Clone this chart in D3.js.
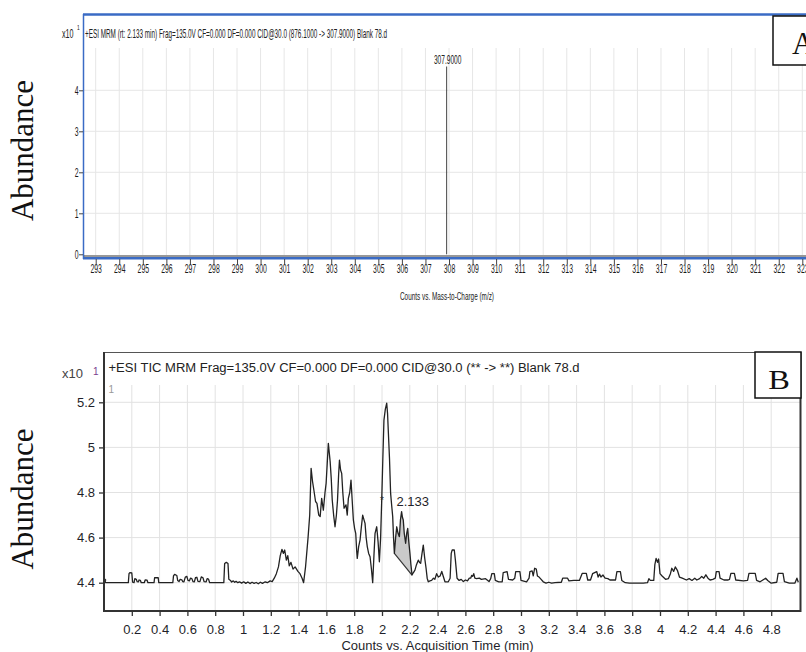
<!DOCTYPE html>
<html>
<head>
<meta charset="utf-8">
<script src="https://cdn.jsdelivr.net/npm/d3@7"></script>
<style>
  body { margin: 0; background: #fff; }
  svg { display: block; }
</style>
</head>
<body>
<div id="chart"></div>
<script>
// ---- panel A : MRM spectrum ----
const aTicksX = [293, 294, 295, 296, 297, 298, 299, 300, 301, 302, 303, 304, 305, 306, 307, 308,
                 309, 310, 311, 312, 313, 314, 315, 316, 317, 318, 319, 320, 321, 322, 323];
const aTicksY = [0, 1, 2, 3, 4];
const aPeakMz = [307.9];
const aPeakAbund = [4.58];
const aPeakLabels = ['307.9000'];
const aTitle = '+ESI MRM (rt: 2.133 min) Frag=135.0V CF=0.000 DF=0.000 CID@30.0 (876.1000 -> 307.9000) Blank 78.d';

// ---- panel B : TIC chromatogram ----
const bTicksX = [0.2, 0.4, 0.6, 0.8, 1, 1.2, 1.4, 1.6, 1.8, 2, 2.2, 2.4, 2.6, 2.8, 3, 3.2, 3.4, 3.6, 3.8, 4, 4.2, 4.4, 4.6, 4.8];
const bTicksY = [4.4, 4.6, 4.8, 5, 5.2];
const bTitle = '+ESI TIC MRM Frag=135.0V CF=0.000 DF=0.000 CID@30.0 (** -> **) Blank 78.d';
const bPeakRt = ['2.133'];
const bIntegStart = 2.089;
const bIntegEnd = 2.216;

const bTimes = [
  0.005, 0.012, 0.175, 0.180, 0.186, 0.200, 0.206, 0.216, 0.222, 0.232, 0.238, 0.248, 0.252, 0.262, 0.268, 0.290,
  0.296, 0.310, 0.316, 0.360, 0.364, 0.390, 0.394, 0.495, 0.500, 0.508, 0.524, 0.530, 0.540, 0.548, 0.560, 0.566,
  0.575, 0.585, 0.596, 0.604, 0.614, 0.622, 0.632, 0.640, 0.650, 0.658, 0.668, 0.676, 0.690, 0.700, 0.712, 0.720,
  0.735, 0.742, 0.752, 0.760, 0.795, 0.862, 0.868, 0.880, 0.892, 0.898, 0.910, 0.918, 0.930, 0.940, 0.950, 0.962,
  0.975, 0.990, 1.005, 1.020, 1.035, 1.050, 1.065, 1.080, 1.095, 1.110, 1.125, 1.140, 1.160, 1.175, 1.195, 1.210,
  1.225, 1.240, 1.255, 1.268, 1.280, 1.290, 1.300, 1.312, 1.322, 1.333, 1.345, 1.360, 1.375, 1.395, 1.410, 1.425,
  1.436, 1.450, 1.468, 1.480, 1.490, 1.500, 1.510, 1.522, 1.532, 1.545, 1.555, 1.566, 1.578, 1.590, 1.598, 1.606,
  1.614, 1.620, 1.627, 1.635, 1.642, 1.652, 1.662, 1.672, 1.680, 1.688, 1.694, 1.702, 1.710, 1.718, 1.727, 1.741,
  1.750, 1.758, 1.768, 1.777, 1.786, 1.794, 1.803, 1.811, 1.818, 1.822, 1.832, 1.842, 1.852, 1.861, 1.870, 1.878,
  1.886, 1.894, 1.904, 1.914, 1.924, 1.933, 1.942, 1.950, 1.962, 1.972, 1.981, 1.990, 1.998, 2.006, 2.014, 2.024,
  2.034, 2.040, 2.045, 2.054, 2.062, 2.070, 2.077, 2.083, 2.089, 2.098, 2.106, 2.115, 2.125, 2.133, 2.141, 2.147,
  2.153, 2.160, 2.170, 2.178, 2.185, 2.193, 2.201, 2.208, 2.216, 2.226, 2.237, 2.248, 2.261, 2.270, 2.278, 2.288,
  2.297, 2.307, 2.317, 2.325, 2.333, 2.345, 2.357, 2.370, 2.380, 2.393, 2.405, 2.418, 2.430, 2.440, 2.453, 2.477,
  2.490, 2.498, 2.505, 2.520, 2.528, 2.540, 2.555, 2.570, 2.585, 2.600, 2.615, 2.628, 2.638, 2.645, 2.652, 2.660,
  2.668, 2.680, 2.700, 2.715, 2.745, 2.770, 2.782, 2.790, 2.808, 2.815, 2.840, 2.865, 2.872, 2.900, 2.910, 2.940,
  2.955, 2.962, 2.992, 3.000, 3.040, 3.058, 3.064, 3.080, 3.088, 3.098, 3.110, 3.118, 3.130, 3.140, 3.160, 3.180,
  3.200, 3.220, 3.245, 3.290, 3.300, 3.335, 3.345, 3.380, 3.420, 3.440, 3.470, 3.480, 3.500, 3.515, 3.545, 3.555,
  3.565, 3.575, 3.590, 3.605, 3.625, 3.640, 3.680, 3.690, 3.715, 3.725, 3.750, 3.780, 3.880, 3.910, 3.920, 3.930,
  3.955, 3.963, 3.972, 3.982, 3.990, 4.000, 4.015, 4.040, 4.060, 4.075, 4.085, 4.098, 4.110, 4.125, 4.140, 4.160,
  4.190, 4.210, 4.230, 4.250, 4.265, 4.285, 4.300, 4.315, 4.330, 4.345, 4.360, 4.380, 4.398, 4.405, 4.425, 4.432,
  4.460, 4.490, 4.500, 4.510, 4.535, 4.545, 4.600, 4.630, 4.640, 4.685, 4.695, 4.720, 4.740, 4.760, 4.775, 4.800,
  4.840, 4.850, 4.885, 4.895, 4.930, 4.970, 4.985, 4.995
];
const bValues = [
  4.412, 4.400, 4.400, 4.440, 4.445, 4.443, 4.402, 4.400, 4.418, 4.415, 4.405, 4.404, 4.412, 4.410, 4.400, 4.400,
  4.412, 4.411, 4.400, 4.400, 4.422, 4.422, 4.400, 4.400, 4.430, 4.437, 4.432, 4.410, 4.405, 4.415, 4.413, 4.405,
  4.404, 4.425, 4.428, 4.410, 4.408, 4.420, 4.418, 4.405, 4.404, 4.422, 4.424, 4.406, 4.405, 4.426, 4.422, 4.405,
  4.404, 4.418, 4.416, 4.400, 4.400, 4.400, 4.485, 4.490, 4.485, 4.415, 4.410, 4.403, 4.408, 4.402, 4.406, 4.400,
  4.404, 4.398, 4.404, 4.397, 4.403, 4.396, 4.402, 4.397, 4.401, 4.395, 4.402, 4.397, 4.404, 4.400, 4.408, 4.405,
  4.420, 4.440, 4.470, 4.520, 4.548, 4.530, 4.545, 4.500, 4.520, 4.475, 4.490, 4.460, 4.470, 4.450, 4.440, 4.420,
  4.400, 4.470, 4.600, 4.700, 4.907, 4.850, 4.810, 4.760, 4.752, 4.700, 4.693, 4.774, 4.722, 4.800, 4.841, 4.930,
  5.018, 4.980, 4.937, 4.860, 4.767, 4.700, 4.648, 4.700, 4.767, 4.880, 4.944, 4.900, 4.885, 4.800, 4.730, 4.745,
  4.700, 4.774, 4.800, 4.855, 4.760, 4.678, 4.640, 4.619, 4.540, 4.508, 4.560, 4.589, 4.650, 4.700, 4.680, 4.663,
  4.600, 4.560, 4.530, 4.515, 4.460, 4.400, 4.520, 4.619, 4.648, 4.580, 4.493, 4.600, 4.767, 4.950, 5.121, 5.170,
  5.196, 5.150, 5.077, 4.950, 4.796, 4.740, 4.693, 4.600, 4.530, 4.600, 4.648, 4.620, 4.604, 4.680, 4.715, 4.690,
  4.678, 4.620, 4.575, 4.620, 4.641, 4.580, 4.530, 4.480, 4.434, 4.445, 4.456, 4.480, 4.500, 4.490, 4.486, 4.530,
  4.567, 4.510, 4.464, 4.420, 4.404, 4.408, 4.410, 4.420, 4.415, 4.440, 4.425, 4.430, 4.450, 4.430, 4.404, 4.404,
  4.420, 4.530, 4.545, 4.545, 4.500, 4.420, 4.410, 4.415, 4.405, 4.412, 4.408, 4.420, 4.420, 4.432, 4.428, 4.440,
  4.420, 4.418, 4.420, 4.415, 4.418, 4.405, 4.418, 4.440, 4.440, 4.410, 4.404, 4.404, 4.445, 4.449, 4.415, 4.412,
  4.420, 4.449, 4.449, 4.410, 4.404, 4.420, 4.449, 4.452, 4.430, 4.464, 4.460, 4.430, 4.425, 4.418, 4.404, 4.398,
  4.402, 4.398, 4.400, 4.402, 4.420, 4.420, 4.408, 4.410, 4.410, 4.441, 4.441, 4.412, 4.412, 4.440, 4.449, 4.425,
  4.438, 4.425, 4.434, 4.420, 4.418, 4.412, 4.412, 4.449, 4.449, 4.410, 4.400, 4.398, 4.398, 4.400, 4.418, 4.410,
  4.410, 4.480, 4.508, 4.490, 4.505, 4.440, 4.430, 4.415, 4.418, 4.440, 4.464, 4.450, 4.470, 4.455, 4.425, 4.420,
  4.412, 4.418, 4.410, 4.420, 4.412, 4.418, 4.428, 4.420, 4.435, 4.420, 4.412, 4.415, 4.420, 4.449, 4.449, 4.420,
  4.412, 4.412, 4.415, 4.441, 4.441, 4.412, 4.408, 4.410, 4.441, 4.441, 4.410, 4.404, 4.412, 4.420, 4.410, 4.398,
  4.402, 4.441, 4.441, 4.405, 4.398, 4.398, 4.420, 4.402
];

const W = 806, H = 652;
const sans = 'Liberation Sans, Arial, sans-serif';
const serif = 'Liberation Serif, Times New Roman, serif';
const blue = '#3a6bc5';

const svg = d3.select('#chart').append('svg')
    .attr('width', W)
    .attr('height', H);

// ================= panel A =================
const xA = d3.scaleLinear().domain([293, 308]).range([95.7, 449]);
const yA = d3.scaleLinear().domain([0, 4]).range([254.3, 90.3]);
const gA = svg.append('g');

// grid
gA.selectAll('.vgrid').data(aTicksX).join('line')
    .attr('x1', d => xA(d)).attr('x2', d => xA(d))
    .attr('y1', 48).attr('y2', 255)
    .attr('stroke', '#e6e6e6');
gA.selectAll('.hgrid').data(aTicksY.slice(1)).join('line')
    .attr('x1', 84).attr('x2', W)
    .attr('y1', d => yA(d)).attr('y2', d => yA(d))
    .attr('stroke', '#e6e6e6');

// frame
gA.append('line').attr('x1', 83).attr('x2', W).attr('y1', 14.5).attr('y2', 14.5)
    .attr('stroke', blue).attr('stroke-width', 2.5);
gA.append('line').attr('x1', 83.5).attr('x2', 83.5).attr('y1', 14).attr('y2', 259)
    .attr('stroke', blue).attr('stroke-width', 1.5);
gA.append('line').attr('x1', 84).attr('x2', W).attr('y1', 256).attr('y2', 256)
    .attr('stroke', '#333').attr('stroke-width', 1.2);
gA.append('line').attr('x1', 83).attr('x2', W).attr('y1', 258.3).attr('y2', 258.3)
    .attr('stroke', blue).attr('stroke-width', 2.6);

// axes
const axA = gA.append('g').attr('transform', 'translate(0,259)')
    .call(d3.axisBottom(xA).tickValues(aTicksX).tickSize(5).tickPadding(0).tickFormat(d3.format('d')));
const ayA = gA.append('g').attr('transform', 'translate(83,0)')
    .call(d3.axisLeft(yA).tickValues(aTicksY).tickSize(4).tickPadding(4).tickFormat(d3.format('d')));
[axA, ayA].forEach(ax => {
  ax.select('.domain').remove();
  ax.selectAll('line').attr('stroke', '#444');
  ax.selectAll('text')
      .attr('font-family', sans).attr('font-size', 12.5).attr('fill', '#1a1a1a')
      .attr('transform', 'scale(0.55,1)');
});

// peak stick
gA.selectAll('.peak').data(aPeakMz).join('line')
    .attr('x1', d => xA(d)).attr('x2', d => xA(d))
    .attr('y1', yA(0)).attr('y2', (d, i) => yA(aPeakAbund[i]))
    .attr('stroke', '#444').attr('stroke-width', 1);
gA.selectAll('.peaklab').data(aPeakMz).join('text')
    .attr('transform', (d, i) => `translate(${xA(d) + 1},${yA(aPeakAbund[i]) - 3}) scale(0.55,1)`)
    .attr('text-anchor', 'middle')
    .attr('font-family', sans).attr('font-size', 12).attr('fill', '#222')
    .text((d, i) => aPeakLabels[i]);

// header
gA.append('text').attr('x', 85).attr('y', 38)
    .attr('font-family', sans).attr('font-size', 13.5).attr('fill', '#222')
    .attr('textLength', 302).attr('lengthAdjust', 'spacingAndGlyphs')
    .text(aTitle);
gA.append('text').attr('transform', 'translate(62,38) scale(0.53,1)')
    .attr('font-family', sans).attr('font-size', 13.5).attr('fill', '#222')
    .text('x10');
gA.append('text').attr('transform', 'translate(77,30) scale(0.7,1)')
    .attr('font-family', sans).attr('font-size', 7).attr('fill', '#222')
    .text('1');

gA.append('text')
    .attr('x', 447).attr('y', 300).attr('text-anchor', 'middle')
    .attr('font-family', sans).attr('font-size', 11).attr('fill', '#1a1a1a')
    .attr('textLength', 94).attr('lengthAdjust', 'spacingAndGlyphs')
    .text('Counts vs. Mass-to-Charge (m/z)');

gA.append('rect').attr('x', 773).attr('y', 16).attr('width', 45).attr('height', 49)
    .attr('fill', '#fff').attr('stroke', '#111').attr('stroke-width', 1.5);
gA.append('text').attr('x', 792).attr('y', 54)
    .attr('font-family', serif).attr('font-size', 31).attr('fill', '#111')
    .text('A');

gA.append('text')
    .attr('transform', 'translate(33,150.5) rotate(-90)')
    .attr('text-anchor', 'middle')
    .attr('font-family', serif).attr('font-size', 31).attr('fill', '#111')
    .text('Abundance');

// ================= panel B =================
const xB = d3.scaleLinear().domain([0, 5]).range([104, 799]);
const yB = d3.scaleLinear().domain([4.4, 5.2]).range([582.7, 402.3]);
const gB = svg.append('g');
const bData = bTimes.map((t, i) => [t, bValues[i]]);

gB.selectAll('.vgrid').data(bTicksX).join('line')
    .attr('x1', d => xB(d)).attr('x2', d => xB(d))
    .attr('y1', 385).attr('y2', 611)
    .attr('stroke', '#e2e2e2');
gB.selectAll('.hgrid').data(bTicksY).join('line')
    .attr('x1', 104).attr('x2', 801)
    .attr('y1', d => yB(d)).attr('y2', d => yB(d))
    .attr('stroke', '#e2e2e2');

// integrated area
const integ = bData.filter(d => d[0] >= bIntegStart && d[0] <= bIntegEnd);
const line = d3.line().x(d => xB(d[0])).y(d => yB(d[1]));
gB.append('path')
    .attr('d', line(integ) + 'Z')
    .attr('fill', '#cacaca').attr('stroke', 'none');
gB.append('line')
    .attr('x1', xB(integ[0][0])).attr('y1', yB(integ[0][1]))
    .attr('x2', xB(integ[integ.length - 1][0])).attr('y2', yB(integ[integ.length - 1][1]))
    .attr('stroke', '#333').attr('stroke-width', 1.2);

gB.append('path')
    .datum(bData)
    .attr('d', line)
    .attr('fill', 'none')
    .attr('stroke', '#222')
    .attr('stroke-width', 1.3)
    .attr('stroke-linejoin', 'round');
gB.append('circle').attr('cx', xB(bTimes[0])).attr('cy', yB(bValues[0])).attr('r', 1.6).attr('fill', '#333');

// frame
gB.append('line').attr('x1', 104).attr('x2', 801).attr('y1', 352.5).attr('y2', 352.5)
    .attr('stroke', '#555').attr('stroke-width', 1);
gB.append('line').attr('x1', 800.5).attr('x2', 800.5).attr('y1', 352).attr('y2', 612)
    .attr('stroke', '#333').attr('stroke-width', 2);
gB.append('line').attr('x1', 104).attr('x2', 104).attr('y1', 352).attr('y2', 612)
    .attr('stroke', '#333').attr('stroke-width', 2);
gB.append('line').attr('x1', 103).attr('x2', 801).attr('y1', 611).attr('y2', 611)
    .attr('stroke', '#333').attr('stroke-width', 2);

const axB = gB.append('g').attr('transform', 'translate(0,611)')
    .call(d3.axisBottom(xB).tickValues(bTicksX).tickSize(5).tickPadding(9).tickFormat(d => String(d)));
const ayB = gB.append('g').attr('transform', 'translate(104,0)')
    .call(d3.axisLeft(yB).tickValues(bTicksY).tickSize(5).tickPadding(4).tickFormat(d => String(d)));
[axB, ayB].forEach(ax => {
  ax.select('.domain').remove();
  ax.selectAll('line').attr('stroke', '#333').attr('stroke-width', 1.3);
  ax.selectAll('text')
      .attr('font-family', sans).attr('font-size', 13).attr('fill', '#1f1f2a');
});

// peak label
gB.selectAll('.rt').data(bPeakRt).join('text')
    .attr('x', d => xB(+d) - 4).attr('y', 506)
    .attr('font-family', sans).attr('font-size', 13).attr('fill', '#1f1f2a')
    .text(d => d);
gB.append('text').attr('x', 380).attr('y', 504)
    .attr('font-family', sans).attr('font-size', 10).attr('fill', '#333')
    .text('*');

// header
gB.append('text').attr('x', 108.5).attr('y', 372)
    .attr('font-family', sans).attr('font-size', 12).attr('fill', '#222')
    .attr('textLength', 471).attr('lengthAdjust', 'spacingAndGlyphs')
    .text(bTitle);
gB.append('text').attr('x', 62).attr('y', 378)
    .attr('font-family', sans).attr('font-size', 13).attr('fill', '#444')
    .text('x10');
gB.append('text').attr('x', 93).attr('y', 375)
    .attr('font-family', sans).attr('font-size', 10).attr('fill', '#7b3a8f')
    .text('1');
gB.append('text').attr('x', 108.5).attr('y', 393)
    .attr('font-family', sans).attr('font-size', 10).attr('fill', '#999')
    .text('1');

gB.append('text')
    .attr('x', 437.5).attr('y', 650).attr('text-anchor', 'middle')
    .attr('font-family', sans).attr('font-size', 13).attr('fill', '#1f1f2a')
    .text('Counts vs. Acquisition Time (min)');

gB.append('rect').attr('x', 755).attr('y', 352).attr('width', 46).attr('height', 46)
    .attr('fill', '#fff').attr('stroke', '#111').attr('stroke-width', 1.5);
gB.append('text')
    .attr('transform', 'translate(779,389) scale(1.2,1)')
    .attr('text-anchor', 'middle')
    .attr('font-family', serif).attr('font-size', 27).attr('fill', '#111')
    .text('B');

gB.append('text')
    .attr('transform', 'translate(33,499) rotate(-90)')
    .attr('text-anchor', 'middle')
    .attr('font-family', serif).attr('font-size', 31).attr('fill', '#111')
    .text('Abundance');
</script>
</body>
</html>
